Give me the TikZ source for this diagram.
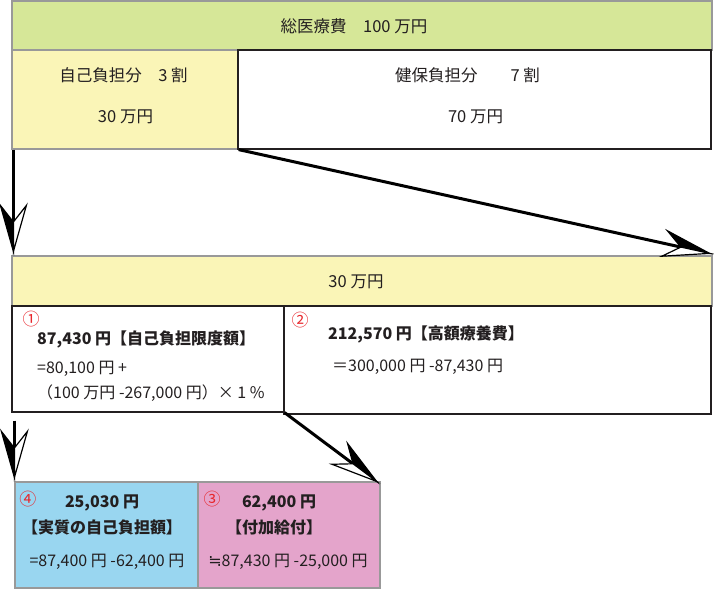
\documentclass[tikz,border=0pt]{standalone}
\usepackage{fontspec}
\setmainfont{Noto Sans CJK JP}
\newfontfamily\symfont{DejaVu Sans}
\usetikzlibrary{arrows.meta}
\definecolor{cgreen}{HTML}{D6E798}
\definecolor{cyellow}{HTML}{FAF5B7}
\definecolor{cblue}{HTML}{99D6F0}
\definecolor{cpink}{HTML}{E4A4CB}
\definecolor{cgray}{HTML}{999999}
\definecolor{cdark}{HTML}{231F20}
\definecolor{cred}{HTML}{E8262B}
\pgfdeclarearrow{
  name = HalfA,
  parameters = {\the\pgfarrowlength,\the\pgfarrowwidth},
  setup code = {
    \pgfarrowssettipend{0pt}
    \pgfarrowssetlineend{-.6\pgfarrowlength}
    \pgfarrowssetbackend{-\pgfarrowlength}
    \pgfarrowshullpoint{0pt}{0pt}
    \pgfarrowsupperhullpoint{-\pgfarrowlength}{.5\pgfarrowwidth}
    \pgfarrowssavethe\pgfarrowlength
    \pgfarrowssavethe\pgfarrowwidth
  },
  drawing code = {
    \pgfsetdash{}{0pt}
    \pgfsetlinewidth{1.2pt}
    \pgfsetmiterjoin
    \pgfsetstrokecolor{black}
    \pgfsetfillcolor{black}
    \pgfpathmoveto{\pgfqpoint{0pt}{0pt}}
    \pgfpathlineto{\pgfqpoint{-\pgfarrowlength}{.5\pgfarrowwidth}}
    \pgfpathlineto{\pgfqpoint{-.64\pgfarrowlength}{0pt}}
    \pgfpathclose
    \pgfusepathqfillstroke
    \pgfsetfillcolor{white}
    \pgfpathmoveto{\pgfqpoint{0pt}{0pt}}
    \pgfpathlineto{\pgfqpoint{-\pgfarrowlength}{-.5\pgfarrowwidth}}
    \pgfpathlineto{\pgfqpoint{-.64\pgfarrowlength}{0pt}}
    \pgfpathclose
    \pgfusepathqfillstroke
  },
  defaults = {length = 46pt, width = 26pt}
}
\pgfdeclarearrow{
  name = HalfB,
  parameters = {\the\pgfarrowlength,\the\pgfarrowwidth},
  setup code = {
    \pgfarrowssettipend{0pt}
    \pgfarrowssetlineend{-.6\pgfarrowlength}
    \pgfarrowssetbackend{-\pgfarrowlength}
    \pgfarrowshullpoint{0pt}{0pt}
    \pgfarrowsupperhullpoint{-\pgfarrowlength}{.5\pgfarrowwidth}
    \pgfarrowssavethe\pgfarrowlength
    \pgfarrowssavethe\pgfarrowwidth
  },
  drawing code = {
    \pgfsetdash{}{0pt}
    \pgfsetlinewidth{1.2pt}
    \pgfsetmiterjoin
    \pgfsetstrokecolor{black}
    \pgfsetfillcolor{black}
    \pgfpathmoveto{\pgfqpoint{0pt}{0pt}}
    \pgfpathlineto{\pgfqpoint{-\pgfarrowlength}{-.5\pgfarrowwidth}}
    \pgfpathlineto{\pgfqpoint{-.64\pgfarrowlength}{0pt}}
    \pgfpathclose
    \pgfusepathqfillstroke
    \pgfsetfillcolor{white}
    \pgfpathmoveto{\pgfqpoint{0pt}{0pt}}
    \pgfpathlineto{\pgfqpoint{-\pgfarrowlength}{.5\pgfarrowwidth}}
    \pgfpathlineto{\pgfqpoint{-.64\pgfarrowlength}{0pt}}
    \pgfpathclose
    \pgfusepathqfillstroke
  },
  defaults = {length = 46pt, width = 26pt}
}
\begin{document}
\begin{tikzpicture}[x=1pt,y=1pt,
  cell/.style={rectangle, inner sep=0pt, line width=1.2pt},
  colcell/.style={cell, draw=cgray},
  whitecell/.style={cell, draw=cdark, fill=white},
  txt/.style={inner sep=0pt, text=cdark, font=\fontsize{16.5}{18}\selectfont},
  btxt/.style={inner sep=0pt, text=cdark, font=\fontsize{16}{18}\selectfont},
  bbtxt/.style={inner sep=0pt, text=cdark, font=\fontsize{16}{18}\selectfont\bfseries},
  num/.style={inner sep=0pt, text=cred, font=\fontsize{17}{19}\selectfont},
  arrA/.style={draw=black, line width=3pt, -{HalfA}},
  arrB/.style={draw=black, line width=3pt, -{HalfB}}]
\useasboundingbox (0,0) rectangle (720,-590);
% cells
\node[colcell, fill=cgreen, minimum width=700pt, minimum height=49pt] (total) at (362,-25.5) {};
\node[colcell, fill=cyellow, minimum width=226pt, minimum height=99pt] (self) at (125,-99.5) {};
\node[whitecell, minimum width=473pt, minimum height=99pt] (ins) at (474.5,-99.5) {};
\node[colcell, fill=cyellow, minimum width=700pt, minimum height=50pt] (bar) at (362,-281) {};
\node[whitecell, minimum width=272pt, minimum height=106pt] (b1) at (148,-359) {};
\node[whitecell, minimum width=427pt, minimum height=108pt] (b2) at (497.5,-360) {};
\node[colcell, fill=cblue, minimum width=183pt, minimum height=106pt] (b4) at (106.5,-535) {};
\node[colcell, fill=cpink, minimum width=182pt, minimum height=106pt] (b3) at (289,-535) {};
% texts
\node[txt] (ttotal) at (354,-26.5) {総医療費　100 万円};
\node[txt] (tself1) at (123.5,-75.5) {自己負担分　3 割};
\node[txt] (tself2) at (125.5,-117) {30 万円};
\node[txt] (tins1) at (467.5,-75.5) {健保負担分　　7 割};
\node[txt] (tins2) at (475.5,-117) {70 万円};
\node[txt] (tbar) at (356,-282) {30 万円};
\node[num] (n1) at (31,-319) {①};
\node[bbtxt, anchor=west] (b1a) at (37,-339) {87,430 円【自己負担限度額】};
\node[btxt, anchor=west] (b1b) at (37,-369) {=80,100 円 +};
\node[btxt, anchor=west] (b1c) at (37,-393) {（100 万円 -267,000 円）× 1 \%};
\node[num] (n2) at (300,-320) {②};
\node[bbtxt, anchor=west] (b2a) at (328,-334) {212,570 円【高額療養費】};
\node[btxt, anchor=west] (b2b) at (332,-367) {＝300,000 円 -87,430 円};
\node[num] (n4) at (28,-499) {④};
\node[bbtxt] (b4a) at (102,-503) {25,030 円};
\node[bbtxt] (b4b) at (102,-527) {【実質の自己負担額】};
\node[btxt] (b4c) at (107,-562) {=87,400 円 -62,400 円};
\node[num] (n3) at (212,-499) {③};
\node[bbtxt] (b3a) at (279,-503) {62,400 円};
\node[bbtxt] (b3b) at (274,-527) {【付加給付】};
\node[btxt] (b3c) at (288,-562) {{\symfont ≒}87,430 円 -25,000 円};
% arrows
\draw[arrB] ([xshift=2pt]self.south west) -- ([xshift=2pt,yshift=4pt]bar.north west);
\draw[arrA] (self.south east) -- ([xshift=-3pt,yshift=2pt]bar.north east);
\draw[arrB] ([xshift=3pt,yshift=-8pt]b1.south west) -- ([yshift=4pt]b4.north west);
\draw[arrA] (b1.south east) -- ([xshift=-4pt]b3.north east);
\end{tikzpicture}
\end{document}
